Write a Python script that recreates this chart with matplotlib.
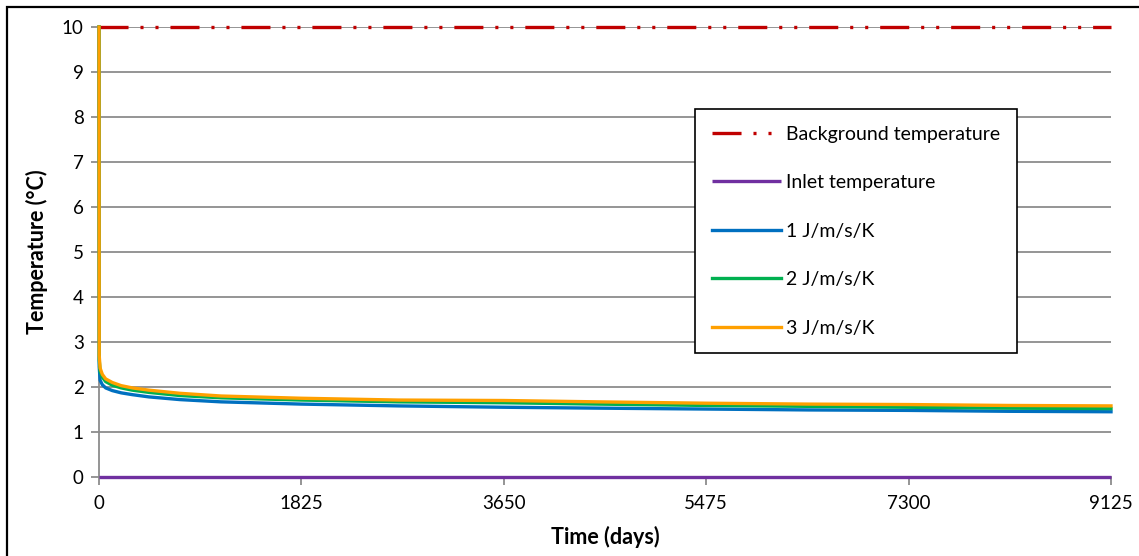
import matplotlib
matplotlib.use("Agg")
import matplotlib.pyplot as plt
from matplotlib.patches import Rectangle

plt.rcParams['font.family'] = ['Lato', 'DejaVu Sans']
plt.rcParams['lines.scale_dashes'] = False

# Time axis (days) and simulated outlet temperatures (°C)
time_days = [0, 2, 10, 30, 60, 120, 200, 300, 450, 730, 1100, 1825,
             2700, 3650, 4500, 5475, 6400, 7300, 8200, 9125]
temp_k1 = [10, 2.45, 2.15, 2.05, 1.98, 1.92, 1.87, 1.83, 1.78, 1.72, 1.67, 1.62,
           1.58, 1.55, 1.53, 1.51, 1.49, 1.48, 1.46, 1.45]
temp_k2 = [10, 2.6, 2.35, 2.22, 2.12, 2.04, 1.98, 1.93, 1.88, 1.81, 1.76, 1.71,
           1.67, 1.65, 1.62, 1.59, 1.57, 1.55, 1.53, 1.52]
temp_k3 = [10, 2.7, 2.42, 2.28, 2.18, 2.10, 2.03, 1.98, 1.93, 1.86, 1.80, 1.75,
           1.71, 1.70, 1.67, 1.64, 1.62, 1.61, 1.59, 1.58]
background_temp = 10
inlet_temp = 0

x_ticks = [0, 1825, 3650, 5475, 7300, 9125]
y_ticks = list(range(0, 11))

W, H = 1139, 556
fig = plt.figure(figsize=(W / 100, H / 100), dpi=100)
ax = fig.add_axes([99 / W, 79 / H, (1111 - 99) / W, (477 - 27) / H])

grid_col = '#8c8c8c'
for yv in y_ticks[1:]:
    ax.axhline(yv, color=grid_col, lw=1.3, zorder=1)

lw = 2.4
ax.plot([time_days[0], time_days[-1]], [background_temp] * 2, color='#C00000', lw=lw,
        dashes=(20.9, 8.6, 2.2, 8.6, 2.2, 8.6), label='Background temperature',
        zorder=3, clip_on=False)
ax.plot([time_days[0], time_days[-1]], [inlet_temp] * 2, color='#7030A0', lw=lw,
        label='Inlet temperature', zorder=4, solid_capstyle='butt', clip_on=False)
ax.plot(time_days, temp_k1, color='#0070C0', lw=lw, label='1 J/m/s/K', zorder=3, clip_on=False)
ax.plot(time_days, temp_k2, color='#00B050', lw=lw, label='2 J/m/s/K', zorder=3, clip_on=False)
ax.plot(time_days, temp_k3, color='#FFA000', lw=lw, label='3 J/m/s/K', zorder=3, clip_on=False)

ax.set_xlim(0, 9125)
ax.set_ylim(0, 10)
ax.set_xticks(x_ticks)
ax.set_yticks(y_ticks)
ax.tick_params(axis='both', colors=grid_col, labelcolor='black', labelsize=13.5,
               length=6, width=1.3, direction='out')
ax.tick_params(axis='x', pad=7)
ax.tick_params(axis='y', pad=5)
for s in ['top', 'right']:
    ax.spines[s].set_visible(False)
for s in ['left', 'bottom']:
    ax.spines[s].set_color(grid_col)
    ax.spines[s].set_linewidth(1.3)

ax.set_xlabel('Time (days)', fontsize=15.5, fontweight='bold', labelpad=10)
ax.set_ylabel('Temperature (°C)', fontsize=15.5, fontweight='bold', labelpad=10)

leg = ax.legend(loc='upper left', bbox_to_anchor=(695 / W, 1 - 109 / H),
                bbox_transform=fig.transFigure, fontsize=14, frameon=True,
                fancybox=False, edgecolor='black', framealpha=1,
                handlelength=3.55, handletextpad=0.3, labelspacing=1.62,
                borderpad=0.85, borderaxespad=0)
leg.get_frame().set_linewidth(1.2)

# Outer frame around the chart area (runs off the right and bottom edges)
fig.patches.append(Rectangle((6.5 / W, -0.05), 1.2, 1 - 6.5 / H + 0.05,
                             transform=fig.transFigure, fill=False,
                             edgecolor='black', lw=1.6))

fig.savefig('out.png', dpi=100)
